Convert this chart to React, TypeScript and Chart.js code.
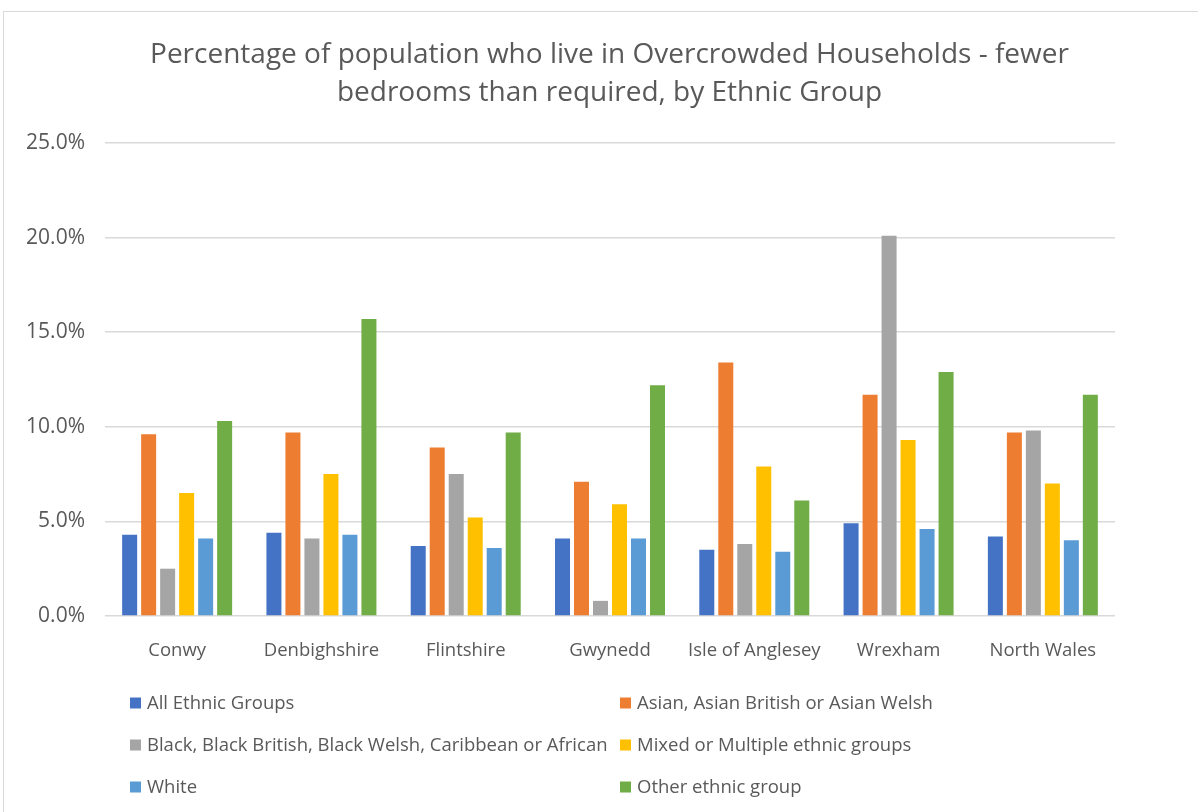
import React, { useEffect, useRef } from 'react';
import { Chart, registerables } from 'chart.js';

Chart.register(...registerables);

const titleLines = [
  'Percentage of population who live in Overcrowded Households - fewer',
  'bedrooms than required, by Ethnic Group',
];
const categories = ['Conwy', 'Denbighshire', 'Flintshire', 'Gwynedd', 'Isle of Anglesey', 'Wrexham', 'North Wales'];
const seriesNames = [
  'All Ethnic Groups',
  'Asian, Asian British or Asian Welsh',
  'Black, Black British, Black Welsh, Caribbean or African',
  'Mixed or Multiple ethnic groups',
  'White',
  'Other ethnic group',
];
const allEthnicGroups = [4.3, 4.4, 3.7, 4.1, 3.5, 4.9, 4.2];
const asian = [9.6, 9.7, 8.9, 7.1, 13.4, 11.7, 9.7];
const black = [2.5, 4.1, 7.5, 0.8, 3.8, 20.1, 9.8];
const mixed = [6.5, 7.5, 5.2, 5.9, 7.9, 9.3, 7.0];
const white = [4.1, 4.3, 3.6, 4.1, 3.4, 4.6, 4.0];
const other = [10.3, 15.7, 9.7, 12.2, 6.1, 12.9, 11.7];
const seriesValues = [allEthnicGroups, asian, black, mixed, white, other];
const seriesColors = ['#4472C4', '#ED7D31', '#A5A5A5', '#FFC000', '#5B9BD5', '#70AD47'];
const yTicks = [0, 5, 10, 15, 20, 25];

const FONT = '"Open Sans", sans-serif';
const TEXT = '#595959';

const titleAndLegend = {
  id: 'titleAndLegend',
  afterDraw(chart: any) {
    const ctx = chart.ctx;
    ctx.save();
    // title
    ctx.font = `28px ${FONT}`;
    ctx.fillStyle = TEXT;
    ctx.textAlign = 'center';
    ctx.textBaseline = 'middle';
    const titleY = [55, 93];
    titleLines.forEach((line, i) => ctx.fillText(line, 609.5, titleY[i]));
    // legend in two columns
    const colX = [130, 620];
    const rowY = [703, 745, 787];
    ctx.font = `18.5px ${FONT}`;
    ctx.textAlign = 'left';
    chart.data.datasets.forEach((ds: any, i: number) => {
      const x = colX[i % 2];
      const y = rowY[Math.floor(i / 2)];
      ctx.fillStyle = ds.backgroundColor;
      ctx.fillRect(x, y - 5.5, 11, 11);
      ctx.fillStyle = TEXT;
      ctx.fillText(ds.label, x + 17, y + 1);
    });
    ctx.restore();
  },
};

export default function App() {
  const ref = useRef<HTMLCanvasElement | null>(null);
  useEffect(() => {
    if (!ref.current) return;
    const chart = new Chart(ref.current, {
      type: 'bar',
      data: {
        labels: categories,
        datasets: seriesNames.map((name, i) => ({
          label: name,
          data: seriesValues[i],
          backgroundColor: seriesColors[i],
          borderWidth: 0,
          categoryPercentage: 0.79,
          barPercentage: 0.79,
        })),
      },
      options: {
        animation: false,
        responsive: false,
        maintainAspectRatio: false,
        layout: { padding: { left: 0, right: 83, top: 143, bottom: 0 } },
        plugins: {
          legend: { display: false },
          tooltip: { enabled: false },
          title: { display: false },
        },
        scales: {
          x: {
            grid: { display: false },
            border: { display: false },
            ticks: { color: TEXT, font: { family: FONT, size: 18.5 }, padding: 16, maxRotation: 0, autoSkip: false },
            afterFit: (scale: any) => { scale.height = 812 - 616; },
          },
          y: {
            min: 0,
            max: 25,
            afterBuildTicks: (scale: any) => { scale.ticks = yTicks.map((v) => ({ value: v })); },
            grid: { color: '#d9d9d9', lineWidth: 1.5, drawTicks: false },
            border: { display: false },
            ticks: {
              color: TEXT,
              font: { family: FONT, size: 21 },
              padding: 20,
              callback: (v: any) => Number(v).toFixed(1) + '%',
            },
            afterFit: (scale: any) => { scale.width = 105; },
          },
        },
      },
      plugins: [titleAndLegend],
    });
    return () => chart.destroy();
  }, []);
  return (
    <div style={{ position: 'fixed', left: 0, top: 0, width: 1198, height: 812, overflow: 'hidden', background: '#fff' }}>
      <div style={{ position: 'absolute', left: 3, top: 11, width: 1300, height: 900, border: '1px solid #d9d9d9' }} />
      <canvas ref={ref} width={1198} height={812} style={{ position: 'absolute', left: 0, top: 0 }} />
    </div>
  );
}
